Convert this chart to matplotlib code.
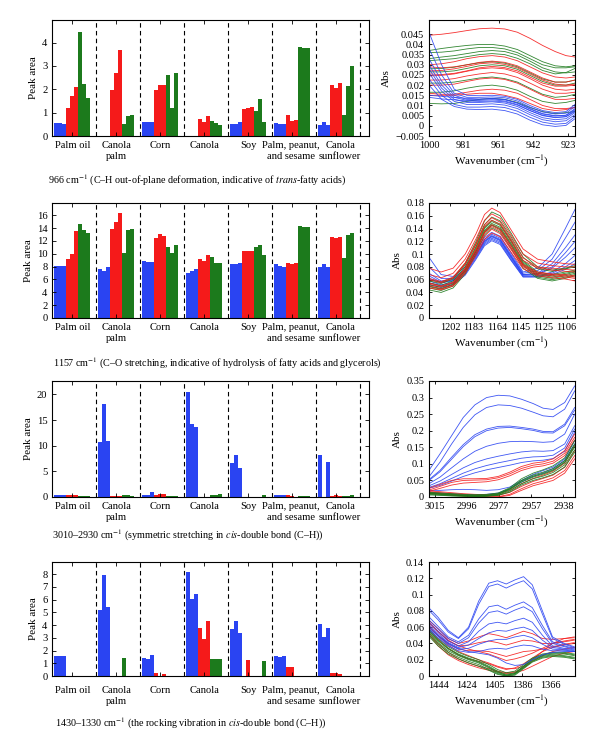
import numpy as np
import matplotlib
matplotlib.use("Agg")
import matplotlib.pyplot as plt

plt.rcParams['font.family'] = 'serif'
plt.rcParams['font.serif'] = ['Liberation Serif', 'DejaVu Serif']
plt.rcParams['mathtext.fontset'] = 'stix'
plt.rcParams['font.size'] = 8

# oil groups on the bar charts
groups = ["Palm oil", "Canola\npalm", "Corn", "Canola", "Soy",
          "Palm, peanut,\nand sesame", "Canola\nsunflower"]

# peak areas, 9 samples per group (3 blue, 3 red, 3 green)
area_966 = [
    [0.55, 0.55, 0.53, 1.20, 1.72, 2.12, 4.47, 2.22, 1.63],
    [0.00, 0.00, 0.00, 1.97, 2.72, 3.70, 0.53, 0.85, 0.92],
    [0.62, 0.60, 0.60, 1.98, 2.18, 2.18, 2.63, 1.22, 2.70],
    [0.00, 0.00, 0.00, 0.72, 0.62, 0.86, 0.65, 0.54, 0.48],
    [0.53, 0.50, 0.58, 1.17, 1.20, 1.26, 1.05, 1.60, 0.58],
    [0.57, 0.53, 0.50, 0.88, 0.65, 0.67, 3.80, 3.77, 3.78],
    [0.45, 0.60, 0.47, 2.18, 2.05, 2.25, 0.88, 2.15, 3.00],
]
area_1157 = [
    [8.1, 8.1, 8.05, 9.2, 9.9, 13.6, 14.7, 13.7, 13.2],
    [7.7, 7.3, 7.9, 13.9, 15.0, 16.3, 10.1, 13.7, 13.8],
    [8.8, 8.75, 8.75, 12.5, 13.0, 12.8, 11.1, 10.1, 11.3],
    [7.0, 7.3, 7.6, 9.2, 8.8, 9.8, 9.5, 8.6, 8.5],
    [8.4, 8.4, 8.6, 10.4, 10.45, 10.45, 11.1, 11.4, 9.8],
    [8.4, 8.1, 7.9, 8.6, 8.4, 8.6, 14.3, 14.2, 14.2],
    [7.9, 8.4, 8.0, 12.6, 12.4, 12.6, 9.3, 12.9, 13.2],
]
area_3010 = [
    [0.45, 0.45, 0.45, 0.30, 0.35, 0.40, 0.25, 0.25, 0.20],
    [10.8, 18.2, 10.9, 0.10, 0.10, 0.10, 0.40, 0.40, 0.20],
    [0.45, 0.45, 1.00, 0.45, 0.50, 0.50, 0.20, 0.20, 0.25],
    [20.4, 14.2, 13.7, 0.00, 0.00, 0.00, 0.40, 0.45, 0.55],
    [6.7, 8.2, 5.6, 0.00, 0.00, 0.00, 0.00, 0.00, 0.45],
    [0.30, 0.35, 0.45, 0.30, 0.20, 0.05, 0.20, 0.20, 0.20],
    [8.1, 0.00, 6.9, 0.10, 0.40, 0.20, 0.10, 0.20, 0.30],
]
area_1430 = [
    [1.60, 1.60, 1.55, 0.00, 0.00, 0.00, 0.00, 0.00, 0.00],
    [5.20, 7.95, 5.40, 0.00, 0.00, 0.00, 1.45, 0.00, 0.00],
    [1.40, 1.35, 1.65, 0.22, 0.00, 0.17, 0.00, 0.00, 0.00],
    [8.15, 6.05, 6.45, 3.75, 2.90, 4.35, 1.30, 1.30, 1.30],
    [3.70, 4.28, 3.38, 0.00, 1.28, 0.00, 0.00, 0.00, 1.15],
    [1.60, 1.50, 1.60, 0.68, 0.68, 0.00, 0.00, 0.00, 0.00],
    [4.05, 3.05, 3.75, 0.20, 0.20, 0.15, 0.00, 0.00, 0.00],
]

# spectra (Abs vs wavenumber)
wn_966 = [1000, 993, 986, 979, 972, 965, 958, 951, 944, 937, 930, 924, 919]
abs_966_red = [
    [0.0445, 0.0450, 0.0458, 0.0468, 0.0477, 0.0480, 0.0476, 0.0460, 0.0430, 0.0395, 0.0365, 0.0345, 0.0338],
    [0.0300, 0.0305, 0.0315, 0.0330, 0.0340, 0.0345, 0.0338, 0.0320, 0.0290, 0.0260, 0.0240, 0.0235, 0.0240],
    [0.0290, 0.0285, 0.0290, 0.0300, 0.0312, 0.0318, 0.0312, 0.0295, 0.0265, 0.0235, 0.0215, 0.0215, 0.0225],
    [0.0270, 0.0272, 0.0280, 0.0292, 0.0305, 0.0310, 0.0302, 0.0285, 0.0255, 0.0225, 0.0205, 0.0200, 0.0205],
    [0.0255, 0.0252, 0.0258, 0.0270, 0.0285, 0.0292, 0.0286, 0.0270, 0.0240, 0.0210, 0.0195, 0.0195, 0.0200],
    [0.0245, 0.0248, 0.0255, 0.0268, 0.0280, 0.0285, 0.0280, 0.0262, 0.0232, 0.0200, 0.0180, 0.0175, 0.0180],
    [0.0225, 0.0225, 0.0232, 0.0245, 0.0255, 0.0262, 0.0255, 0.0238, 0.0210, 0.0180, 0.0160, 0.0160, 0.0165],
    [0.0200, 0.0200, 0.0205, 0.0218, 0.0230, 0.0235, 0.0228, 0.0210, 0.0180, 0.0150, 0.0130, 0.0130, 0.0135],
    [0.0160, 0.0155, 0.0155, 0.0165, 0.0175, 0.0180, 0.0175, 0.0160, 0.0130, 0.0100, 0.0085, 0.0085, 0.0090],
    [0.0150, 0.0150, 0.0150, 0.0155, 0.0160, 0.0160, 0.0150, 0.0135, 0.0110, 0.0085, 0.0075, 0.0080, 0.0090],
]
abs_966_green = [
    [0.0370, 0.0380, 0.0388, 0.0395, 0.0400, 0.0400, 0.0392, 0.0375, 0.0345, 0.0315, 0.0295, 0.0290, 0.0295],
    [0.0360, 0.0362, 0.0368, 0.0378, 0.0385, 0.0385, 0.0378, 0.0360, 0.0330, 0.0300, 0.0285, 0.0285, 0.0290],
    [0.0330, 0.0338, 0.0345, 0.0355, 0.0365, 0.0370, 0.0365, 0.0348, 0.0318, 0.0285, 0.0265, 0.0260, 0.0265],
    [0.0320, 0.0325, 0.0330, 0.0340, 0.0350, 0.0355, 0.0350, 0.0332, 0.0305, 0.0272, 0.0255, 0.0262, 0.0282],
    [0.0280, 0.0282, 0.0288, 0.0300, 0.0310, 0.0315, 0.0308, 0.0290, 0.0260, 0.0230, 0.0215, 0.0215, 0.0225],
    [0.0265, 0.0265, 0.0270, 0.0282, 0.0295, 0.0300, 0.0295, 0.0278, 0.0248, 0.0218, 0.0200, 0.0200, 0.0210],
    [0.0210, 0.0210, 0.0215, 0.0225, 0.0235, 0.0240, 0.0232, 0.0215, 0.0185, 0.0155, 0.0140, 0.0145, 0.0155],
    [0.0165, 0.0165, 0.0172, 0.0185, 0.0195, 0.0200, 0.0192, 0.0175, 0.0145, 0.0120, 0.0110, 0.0115, 0.0125],
    [0.0110, 0.0108, 0.0110, 0.0120, 0.0130, 0.0135, 0.0130, 0.0115, 0.0090, 0.0070, 0.0060, 0.0065, 0.0070],
]
abs_966_blue = [
    [0.0460, 0.0300, 0.0180, 0.0150, 0.0148, 0.0150, 0.0145, 0.0130, 0.0100, 0.0075, 0.0065, 0.0070, 0.0105],
    [0.0380, 0.0250, 0.0160, 0.0140, 0.0140, 0.0142, 0.0138, 0.0122, 0.0092, 0.0068, 0.0058, 0.0062, 0.0095],
    [0.0330, 0.0220, 0.0150, 0.0130, 0.0130, 0.0135, 0.0130, 0.0112, 0.0082, 0.0058, 0.0048, 0.0052, 0.0085],
    [0.0300, 0.0200, 0.0140, 0.0125, 0.0125, 0.0128, 0.0122, 0.0105, 0.0075, 0.0050, 0.0040, 0.0045, 0.0075],
    [0.0280, 0.0185, 0.0130, 0.0115, 0.0115, 0.0118, 0.0112, 0.0095, 0.0065, 0.0040, 0.0030, 0.0035, 0.0065],
    [0.0260, 0.0170, 0.0120, 0.0105, 0.0105, 0.0108, 0.0102, 0.0085, 0.0055, 0.0030, 0.0020, 0.0025, 0.0055],
    [0.0230, 0.0150, 0.0105, 0.0092, 0.0092, 0.0095, 0.0090, 0.0072, 0.0042, 0.0018, 0.0008, 0.0012, 0.0045],
    [0.0150, 0.0145, 0.0140, 0.0135, 0.0132, 0.0132, 0.0128, 0.0112, 0.0085, 0.0060, 0.0050, 0.0052, 0.0080],
    [0.0140, 0.0132, 0.0128, 0.0122, 0.0120, 0.0122, 0.0118, 0.0102, 0.0075, 0.0052, 0.0042, 0.0045, 0.0070],
    [0.0200, 0.0130, 0.0095, 0.0082, 0.0080, 0.0082, 0.0075, 0.0058, 0.0028, 0.0005, -0.0003, 0.0002, 0.0035],
]

wn_1157 = [1220, 1210, 1200, 1190, 1181, 1174, 1168, 1161, 1152, 1142, 1130, 1118, 1107, 1099]
abs_1157_red = [
    [0.078, 0.072, 0.078, 0.100, 0.132, 0.162, 0.172, 0.165, 0.138, 0.108, 0.092, 0.088, 0.085, 0.084],
    [0.068, 0.063, 0.070, 0.092, 0.124, 0.153, 0.163, 0.156, 0.130, 0.100, 0.086, 0.082, 0.080, 0.080],
    [0.062, 0.057, 0.064, 0.086, 0.117, 0.146, 0.157, 0.150, 0.124, 0.094, 0.080, 0.078, 0.076, 0.075],
    [0.060, 0.055, 0.062, 0.084, 0.115, 0.143, 0.153, 0.146, 0.120, 0.090, 0.078, 0.075, 0.073, 0.072],
    [0.055, 0.050, 0.056, 0.078, 0.108, 0.135, 0.146, 0.139, 0.113, 0.084, 0.072, 0.069, 0.068, 0.066],
    [0.053, 0.049, 0.055, 0.076, 0.106, 0.133, 0.143, 0.136, 0.110, 0.082, 0.070, 0.068, 0.066, 0.064],
    [0.050, 0.046, 0.052, 0.073, 0.102, 0.128, 0.139, 0.132, 0.107, 0.080, 0.068, 0.066, 0.064, 0.062],
    [0.047, 0.044, 0.050, 0.070, 0.098, 0.123, 0.133, 0.127, 0.103, 0.077, 0.066, 0.063, 0.061, 0.058],
]
abs_1157_green = [
    [0.060, 0.056, 0.063, 0.086, 0.120, 0.152, 0.166, 0.160, 0.133, 0.100, 0.080, 0.075, 0.078, 0.082],
    [0.058, 0.054, 0.061, 0.083, 0.116, 0.146, 0.158, 0.152, 0.127, 0.095, 0.077, 0.073, 0.077, 0.080],
    [0.055, 0.051, 0.058, 0.080, 0.112, 0.142, 0.153, 0.147, 0.122, 0.090, 0.072, 0.068, 0.072, 0.075],
    [0.052, 0.048, 0.055, 0.077, 0.110, 0.140, 0.151, 0.145, 0.120, 0.088, 0.070, 0.066, 0.070, 0.073],
    [0.050, 0.046, 0.053, 0.075, 0.107, 0.137, 0.148, 0.142, 0.117, 0.086, 0.068, 0.064, 0.068, 0.072],
    [0.049, 0.045, 0.052, 0.074, 0.105, 0.135, 0.146, 0.140, 0.115, 0.084, 0.066, 0.062, 0.066, 0.070],
    [0.047, 0.043, 0.050, 0.072, 0.104, 0.134, 0.145, 0.138, 0.113, 0.082, 0.064, 0.060, 0.064, 0.068],
    [0.044, 0.040, 0.047, 0.069, 0.101, 0.130, 0.141, 0.134, 0.109, 0.078, 0.062, 0.058, 0.062, 0.066],
]
abs_1157_blue = [
    [0.095, 0.068, 0.065, 0.080, 0.105, 0.126, 0.134, 0.128, 0.102, 0.072, 0.078, 0.100, 0.140, 0.170],
    [0.080, 0.062, 0.062, 0.077, 0.102, 0.123, 0.131, 0.125, 0.099, 0.070, 0.074, 0.092, 0.125, 0.150],
    [0.070, 0.058, 0.060, 0.075, 0.100, 0.121, 0.129, 0.123, 0.097, 0.068, 0.070, 0.085, 0.110, 0.130],
    [0.066, 0.056, 0.059, 0.074, 0.099, 0.120, 0.128, 0.122, 0.096, 0.068, 0.069, 0.080, 0.102, 0.120],
    [0.062, 0.055, 0.058, 0.073, 0.098, 0.119, 0.127, 0.121, 0.095, 0.067, 0.068, 0.078, 0.095, 0.110],
    [0.058, 0.052, 0.056, 0.071, 0.096, 0.117, 0.125, 0.119, 0.093, 0.066, 0.066, 0.072, 0.085, 0.098],
    [0.055, 0.050, 0.054, 0.069, 0.094, 0.115, 0.123, 0.117, 0.091, 0.065, 0.065, 0.070, 0.080, 0.090],
    [0.052, 0.048, 0.052, 0.067, 0.092, 0.113, 0.121, 0.115, 0.090, 0.064, 0.064, 0.068, 0.076, 0.085],
]

wn_3010 = [3018, 3012, 3005, 2998, 2991, 2984, 2977, 2970, 2963, 2956, 2950, 2944, 2937, 2931]
abs_3010_red = [
    [0.028, 0.038, 0.050, 0.055, 0.055, 0.056, 0.062, 0.075, 0.092, 0.102, 0.106, 0.115, 0.140, 0.190],
    [0.022, 0.032, 0.044, 0.050, 0.051, 0.052, 0.058, 0.070, 0.086, 0.096, 0.100, 0.108, 0.132, 0.180],
    [0.018, 0.026, 0.036, 0.042, 0.044, 0.046, 0.052, 0.064, 0.080, 0.090, 0.094, 0.102, 0.125, 0.172],
    [0.018, 0.016, 0.013, 0.010, 0.008, 0.007, 0.009, 0.020, 0.040, 0.056, 0.066, 0.078, 0.102, 0.155],
    [0.015, 0.013, 0.010, 0.007, 0.005, 0.004, 0.005, 0.014, 0.032, 0.047, 0.056, 0.066, 0.090, 0.140],
    [0.012, 0.010, 0.007, 0.004, 0.002, 0.001, 0.001, 0.008, 0.025, 0.040, 0.048, 0.058, 0.080, 0.125],
    [0.010, 0.008, 0.005, 0.003, 0.001, 0.000, 0.000, 0.005, 0.020, 0.034, 0.042, 0.050, 0.072, 0.115],
]
abs_3010_green = [
    [0.014, 0.012, 0.010, 0.008, 0.007, 0.008, 0.012, 0.028, 0.055, 0.072, 0.082, 0.094, 0.118, 0.170],
    [0.012, 0.010, 0.008, 0.006, 0.005, 0.006, 0.010, 0.025, 0.050, 0.066, 0.075, 0.086, 0.110, 0.160],
    [0.011, 0.009, 0.007, 0.005, 0.004, 0.005, 0.009, 0.024, 0.048, 0.063, 0.071, 0.082, 0.106, 0.155],
    [0.010, 0.008, 0.006, 0.004, 0.003, 0.004, 0.008, 0.022, 0.045, 0.060, 0.069, 0.080, 0.104, 0.150],
    [0.008, 0.006, 0.004, 0.003, 0.002, 0.003, 0.006, 0.018, 0.040, 0.055, 0.063, 0.074, 0.097, 0.142],
    [0.006, 0.005, 0.003, 0.002, 0.001, 0.002, 0.005, 0.015, 0.036, 0.050, 0.058, 0.068, 0.090, 0.135],
]
abs_3010_blue = [
    [0.085, 0.130, 0.185, 0.240, 0.278, 0.300, 0.307, 0.305, 0.295, 0.282, 0.268, 0.264, 0.285, 0.335],
    [0.065, 0.105, 0.160, 0.210, 0.248, 0.270, 0.278, 0.276, 0.268, 0.256, 0.245, 0.242, 0.265, 0.320],
    [0.055, 0.080, 0.120, 0.158, 0.188, 0.205, 0.213, 0.214, 0.210, 0.205, 0.198, 0.197, 0.220, 0.270],
    [0.052, 0.076, 0.114, 0.152, 0.182, 0.200, 0.208, 0.210, 0.206, 0.201, 0.194, 0.193, 0.215, 0.262],
    [0.042, 0.060, 0.088, 0.115, 0.138, 0.153, 0.162, 0.167, 0.168, 0.167, 0.165, 0.167, 0.190, 0.250],
    [0.035, 0.048, 0.068, 0.088, 0.104, 0.115, 0.123, 0.130, 0.136, 0.139, 0.138, 0.140, 0.160, 0.215],
    [0.030, 0.040, 0.056, 0.072, 0.085, 0.095, 0.103, 0.110, 0.117, 0.121, 0.122, 0.126, 0.148, 0.205],
    [0.027, 0.035, 0.048, 0.062, 0.073, 0.082, 0.089, 0.096, 0.104, 0.109, 0.111, 0.116, 0.138, 0.195],
    [0.020, 0.020, 0.022, 0.023, 0.022, 0.020, 0.022, 0.030, 0.050, 0.068, 0.080, 0.090, 0.115, 0.170],
    [0.015, 0.012, 0.010, 0.008, 0.007, 0.008, 0.012, 0.025, 0.045, 0.062, 0.073, 0.085, 0.110, 0.160],
]

wn_1430 = [1450, 1444, 1437, 1430, 1423, 1416, 1409, 1403, 1397, 1391, 1385, 1379, 1372, 1365, 1357, 1350]
abs_1430_red = [
    [0.068, 0.058, 0.046, 0.040, 0.043, 0.048, 0.052, 0.050, 0.047, 0.051, 0.055, 0.052, 0.046, 0.045, 0.046, 0.047],
    [0.066, 0.055, 0.044, 0.037, 0.033, 0.030, 0.027, 0.023, 0.019, 0.021, 0.024, 0.028, 0.034, 0.040, 0.043, 0.045],
    [0.064, 0.054, 0.043, 0.037, 0.038, 0.041, 0.043, 0.041, 0.038, 0.041, 0.044, 0.043, 0.040, 0.040, 0.042, 0.044],
    [0.060, 0.050, 0.040, 0.033, 0.031, 0.031, 0.030, 0.027, 0.024, 0.027, 0.030, 0.031, 0.033, 0.036, 0.039, 0.041],
    [0.060, 0.049, 0.038, 0.030, 0.025, 0.020, 0.016, 0.012, 0.009, 0.009, 0.012, 0.020, 0.030, 0.040, 0.046, 0.048],
    [0.056, 0.045, 0.034, 0.026, 0.021, 0.018, 0.015, 0.011, 0.008, 0.010, 0.015, 0.022, 0.030, 0.035, 0.038, 0.040],
    [0.052, 0.040, 0.029, 0.021, 0.016, 0.012, 0.009, 0.006, 0.004, 0.005, 0.010, 0.018, 0.025, 0.030, 0.033, 0.035],
    [0.050, 0.037, 0.026, 0.019, 0.014, 0.010, 0.007, 0.005, 0.003, 0.004, 0.007, 0.012, 0.018, 0.024, 0.028, 0.030],
]
abs_1430_green = [
    [0.057, 0.046, 0.036, 0.029, 0.024, 0.020, 0.014, 0.008, 0.004, 0.006, 0.014, 0.022, 0.027, 0.029, 0.029, 0.027],
    [0.055, 0.044, 0.034, 0.027, 0.022, 0.018, 0.012, 0.006, 0.002, 0.004, 0.012, 0.020, 0.025, 0.027, 0.027, 0.025],
    [0.054, 0.043, 0.033, 0.026, 0.021, 0.017, 0.011, 0.005, 0.001, 0.003, 0.012, 0.021, 0.026, 0.028, 0.028, 0.026],
    [0.052, 0.041, 0.031, 0.025, 0.020, 0.016, 0.010, 0.004, 0.001, 0.003, 0.011, 0.019, 0.024, 0.026, 0.025, 0.023],
    [0.050, 0.039, 0.029, 0.023, 0.018, 0.014, 0.008, 0.003, 0.000, 0.002, 0.010, 0.018, 0.023, 0.025, 0.024, 0.022],
    [0.048, 0.037, 0.027, 0.021, 0.016, 0.012, 0.007, 0.002, 0.000, 0.001, 0.009, 0.017, 0.022, 0.024, 0.023, 0.021],
]
abs_1430_blue = [
    [0.083, 0.072, 0.056, 0.047, 0.060, 0.092, 0.114, 0.117, 0.113, 0.118, 0.122, 0.112, 0.080, 0.048, 0.040, 0.036],
    [0.080, 0.069, 0.054, 0.046, 0.058, 0.088, 0.110, 0.113, 0.108, 0.113, 0.117, 0.107, 0.076, 0.046, 0.039, 0.035],
    [0.072, 0.061, 0.048, 0.042, 0.050, 0.070, 0.085, 0.087, 0.082, 0.087, 0.091, 0.084, 0.062, 0.042, 0.037, 0.034],
    [0.068, 0.058, 0.046, 0.040, 0.047, 0.065, 0.078, 0.080, 0.076, 0.081, 0.085, 0.079, 0.058, 0.040, 0.036, 0.033],
    [0.065, 0.055, 0.043, 0.037, 0.042, 0.055, 0.064, 0.066, 0.064, 0.068, 0.071, 0.066, 0.050, 0.037, 0.034, 0.032],
    [0.062, 0.052, 0.041, 0.035, 0.038, 0.046, 0.053, 0.056, 0.055, 0.058, 0.060, 0.056, 0.044, 0.035, 0.033, 0.031],
    [0.060, 0.050, 0.040, 0.034, 0.030, 0.028, 0.026, 0.022, 0.016, 0.013, 0.014, 0.020, 0.026, 0.029, 0.030, 0.030],
    [0.058, 0.049, 0.039, 0.033, 0.034, 0.039, 0.043, 0.045, 0.045, 0.048, 0.050, 0.047, 0.039, 0.033, 0.032, 0.030],
    [0.056, 0.047, 0.037, 0.031, 0.029, 0.030, 0.033, 0.034, 0.033, 0.036, 0.038, 0.037, 0.033, 0.031, 0.031, 0.030],
]

captions = [
    r"966 cm$^{-1}$ (C–H out-of-plane deformation, indicative of $\mathit{trans}$-fatty acids)",
    r"1157 cm$^{-1}$ (C–O stretching, indicative of hydrolysis of fatty acids and glycerols)",
    r"3010–2930 cm$^{-1}$ (symmetric stretching in $\mathit{cis}$-double bond (C–H))",
    r"1430–1330 cm$^{-1}$ (the rocking vibration in $\mathit{cis}$-double bond (C–H))",
]

blue = '#2a44f2'
red = '#f51a1a'
green = '#1c7a1c'
bar_colors = [blue] * 3 + [red] * 3 + [green] * 3

fig = plt.figure(figsize=(6, 7.5), dpi=100)

# panel tops / bottoms in pixels
rows = [(20, 136), (203, 318), (381, 497), (562, 676)]

# small sideways nudge (px) of each group label
label_dx = [0, 0, 0, 0, 0, -1, 4]


def px_axes(x0, x1, y0, y1):
    return fig.add_axes([x0 / 600, 1 - y1 / 750, (x1 - x0) / 600, (y1 - y0) / 750])


def bar_panel(ax, data, ymax, yticks, pad):
    for g, vals in enumerate(data):
        x = g * 11 + 1 + np.arange(9)
        ax.bar(x, vals, width=1.0, color=bar_colors, linewidth=0)
        ax.axvline(g * 11 + 11, color='k', ls=(0, (4, 3)), lw=0.8)
    ax.set_xlim(0, 79.2)
    ax.set_ylim(0, ymax)
    ax.set_yticks(yticks)
    ax.set_xticks([g * 11 + 5 for g in range(7)])
    ax.set_xticklabels([])
    for g, name in enumerate(groups):
        ax.annotate(name, xy=(g * 11 + 5, 0), xycoords=('data', 'axes fraction'),
                    xytext=(label_dx[g] * 0.72, -pad * 0.72), textcoords='offset points',
                    ha='center', va='top', fontsize=7.6, linespacing=1.3)
    ax.tick_params(direction='in', top=True, right=True, length=3, width=0.6)
    ax.tick_params(axis='y', labelsize=7.6)
    ax.set_ylabel('Peak area', fontsize=8, labelpad=3)
    for s in ax.spines.values():
        s.set_linewidth(0.8)


def spec_panel(ax, wn, sets, xlim, xticks, xlabels, ylim, yticks):
    for curves, c in sets:
        for y in curves:
            ax.plot(wn, y, color=c, lw=0.6, alpha=0.9)
    ax.set_xlim(*xlim)
    ax.set_ylim(*ylim)
    ax.set_xticks(xticks)
    ax.set_xticklabels(xlabels)
    ax.set_yticks(yticks)
    ax.set_yticklabels([('%g' % v).replace('-', '\u2212') for v in yticks])
    ax.tick_params(direction='in', top=True, right=True, length=2.5, width=0.6, labelsize=7.4)
    ax.set_ylabel('Abs', fontsize=8, labelpad=3)
    ax.set_xlabel(r'Wavenumber (cm$^{-1}$)', fontsize=8, labelpad=3)
    for s in ax.spines.values():
        s.set_linewidth(0.8)


bar_data = [area_966, area_1157, area_3010, area_1430]
bar_ymax = [4.97, 17.9, 22.6, 8.95]
bar_ticks = [[0, 1, 2, 3, 4], list(range(0, 17, 2)), [0, 5, 10, 15, 20], list(range(0, 9))]
pads = [5, 5, 5, 10]
for i in range(4):
    ax = px_axes(52.3, 369, rows[i][0], rows[i][1])
    bar_panel(ax, bar_data[i], bar_ymax[i], bar_ticks[i], pads[i])

# spectra on the right
ax = px_axes(429, 575, rows[0][0], rows[0][1])
spec_panel(ax, wn_966, [(abs_966_green, green), (abs_966_red, red), (abs_966_blue, blue)],
           (1000, 919), [1000, 980.7, 961.4, 942.1, 922.8], ['1000', '981', '961', '942', '923'],
           (-0.005, 0.052), [-0.005, 0, 0.005, 0.01, 0.015, 0.02, 0.025, 0.03, 0.035, 0.04, 0.045])

ax = px_axes(429, 575, rows[1][0], rows[1][1])
spec_panel(ax, wn_1157, [(abs_1157_blue, blue), (abs_1157_green, green), (abs_1157_red, red)],
           (1220, 1099), [1202.4, 1183.1, 1163.8, 1144.5, 1125.2, 1105.9],
           ['1202', '1183', '1164', '1145', '1125', '1106'],
           (0, 0.18), [0, 0.02, 0.04, 0.06, 0.08, 0.1, 0.12, 0.14, 0.16, 0.18])

ax = px_axes(429, 575, rows[2][0], rows[2][1])
spec_panel(ax, wn_3010, [(abs_3010_blue, blue), (abs_3010_red, red), (abs_3010_green, green)],
           (3018.6, 2930.8), [3015.0, 2995.7, 2976.4, 2957.1, 2937.8],
           ['3015', '2996', '2977', '2957', '2938'],
           (0, 0.35), [0, 0.05, 0.1, 0.15, 0.2, 0.25, 0.3, 0.35])

ax = px_axes(429, 575, rows[3][0], rows[3][1])
spec_panel(ax, wn_1430, [(abs_1430_red, red), (abs_1430_green, green), (abs_1430_blue, blue)],
           (1450.3, 1349.5), [1443.9, 1424.6, 1405.3, 1386.0, 1366.7],
           ['1444', '1424', '1405', '1386', '1366'],
           (0, 0.14), [0, 0.02, 0.04, 0.06, 0.08, 0.1, 0.12, 0.14])

# captions under each row
cap_pos = [(48, 180), (53, 363), (52, 535), (55, 723)]
for (cx, cy), txt in zip(cap_pos, captions):
    fig.text(cx / 600, 1 - cy / 750, txt, fontsize=7.3, ha='left', va='center')

fig.savefig('out.png', dpi=100)
